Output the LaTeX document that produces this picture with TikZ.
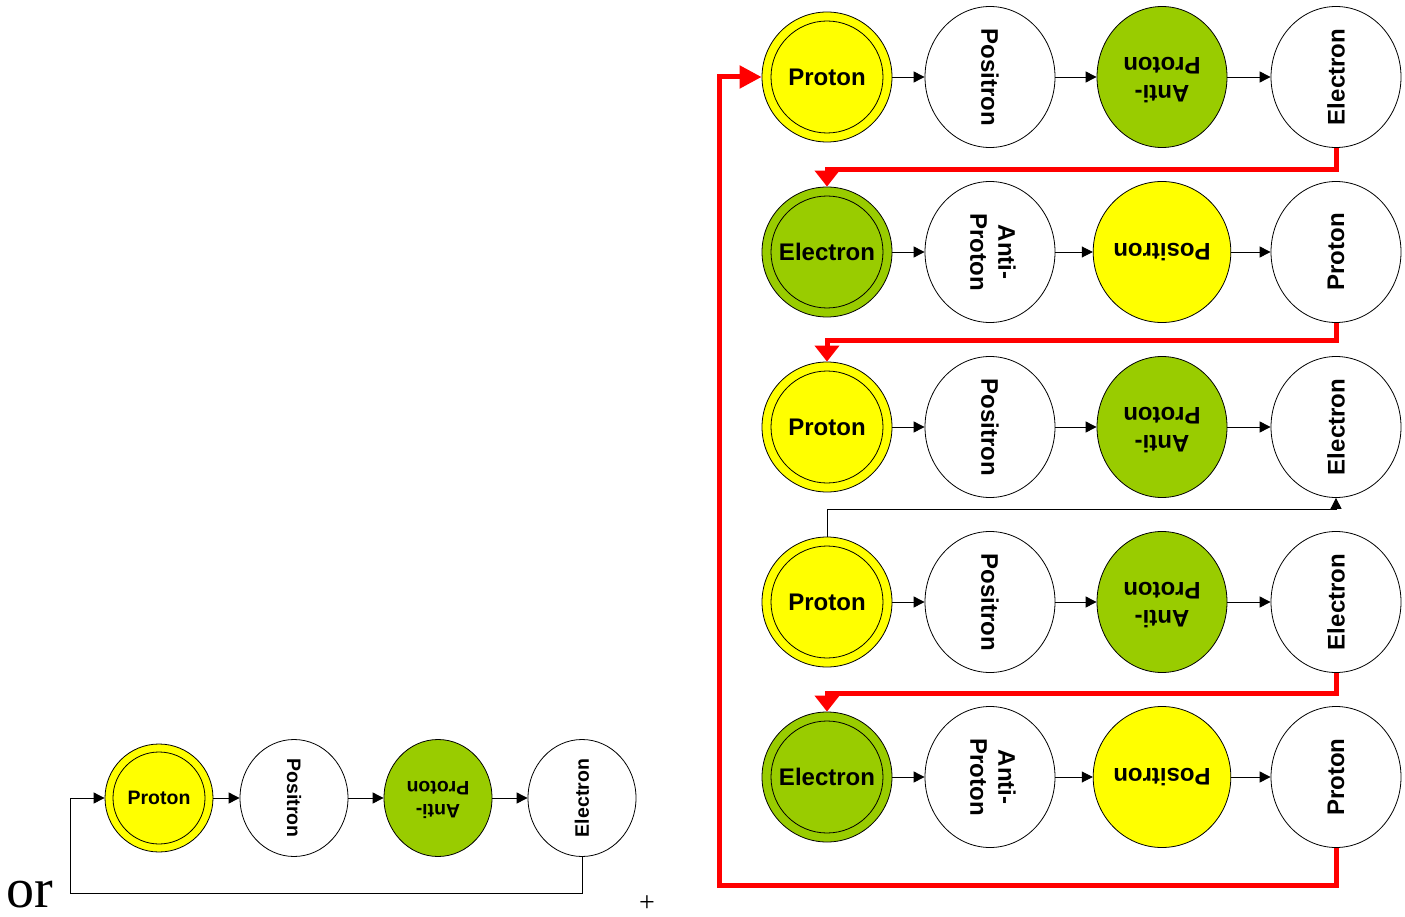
\documentclass[tikz,border=0pt]{standalone}
\usepackage{fontspec}
\setmainfont{Liberation Sans}
\newfontfamily\timesfont{Liberation Serif}
\usepackage{graphicx}
\usetikzlibrary{shapes.geometric, arrows.meta}

\definecolor{partyellow}{HTML}{FFFF00}
\definecolor{partgreen}{HTML}{99CC00}

\newcommand{\twoline}[2]{\begin{tabular}{@{}c@{}}#1\\#2\end{tabular}}

\begin{document}
\begin{tikzpicture}[x=1pt, y=-1pt,
        part/.style={ellipse, draw, line width=0.8pt, minimum width=130pt, minimum height=141pt,
            inner sep=0pt, font=\bfseries\fontsize{24}{28}\selectfont},
        core/.style={circle, draw, line width=0.8pt, minimum size=130pt, inner sep=0pt,
            font=\bfseries\fontsize{24}{28}\selectfont,
            path picture={\draw[line width=0.8pt] (path picture bounding box.center) circle[radius=56pt];}},
        smallpart/.style={part, minimum width=108pt, minimum height=117pt, font=\bfseries\fontsize{19.5}{23}\selectfont},
        smallcore/.style={circle, draw, line width=0.8pt, minimum size=108pt, inner sep=0pt,
            font=\bfseries\fontsize{19.5}{23}\selectfont,
            path picture={\draw[line width=0.8pt] (path picture bounding box.center) circle[radius=46pt];}},
        link/.style={draw, line width=0.9pt, -{Triangle[length=11pt, width=11pt]}},
        feed/.style={draw=red, line width=5pt, -{Triangle[length=16pt, width=24pt]}}]

    \useasboundingbox (0,0) rectangle (1405,917);

    % Small chain
    \node[smallcore, fill=partyellow] (l1) at (159,798) {Proton};
    \node[smallpart] (l2) at (294,798) {\rotatebox{-90}{Positron}};
    \node[smallpart, fill=partgreen] (l3) at (438,798) {\rotatebox{180}{\twoline{Anti-}{Proton}}};
    \node[smallpart] (l4) at (582,798) {\rotatebox{90}{Electron}};

    \draw[link] (l1) -- (l2);
    \draw[link] (l2) -- (l3);
    \draw[link] (l3) -- (l4);
    \coordinate (loop) at (70,893);
    \draw[link] (l4.south) |- (loop) |- (l1.west);

    % Side texts
    \node[anchor=base west, inner sep=0pt] (or) at (6,907) {\timesfont\fontsize{56}{60}\selectfont or};
    \node[inner sep=0pt] (plus) at (647,904) {\timesfont\fontsize{28}{30}\selectfont +};

    % Row 1
    \node[core, fill=partyellow] (n11) at (827,77) {Proton};
    \node[part] (n12) at (990,77) {\rotatebox{-90}{Positron}};
    \node[part, fill=partgreen] (n13) at (1162,77) {\rotatebox{180}{\twoline{Anti-}{Proton}}};
    \node[part] (n14) at (1336,77) {\rotatebox{90}{Electron}};

    % Row 2
    \node[core, fill=partgreen] (n21) at (827,252) {Electron};
    \node[part] (n22) at (990,252) {\rotatebox{-90}{\twoline{Anti-}{Proton}}};
    \node[part, fill=partyellow] (n23) at (1162,252) {\rotatebox{180}{Positron}};
    \node[part] (n24) at (1336,252) {\rotatebox{90}{Proton}};

    % Row 3
    \node[core, fill=partyellow] (n31) at (827,427) {Proton};
    \node[part] (n32) at (990,427) {\rotatebox{-90}{Positron}};
    \node[part, fill=partgreen] (n33) at (1162,427) {\rotatebox{180}{\twoline{Anti-}{Proton}}};
    \node[part] (n34) at (1336,427) {\rotatebox{90}{Electron}};

    % Row 4
    \node[core, fill=partyellow] (n41) at (827,602) {Proton};
    \node[part] (n42) at (990,602) {\rotatebox{-90}{Positron}};
    \node[part, fill=partgreen] (n43) at (1162,602) {\rotatebox{180}{\twoline{Anti-}{Proton}}};
    \node[part] (n44) at (1336,602) {\rotatebox{90}{Electron}};

    % Row 5
    \node[core, fill=partgreen] (n51) at (827,777) {Electron};
    \node[part] (n52) at (990,777) {\rotatebox{-90}{\twoline{Anti-}{Proton}}};
    \node[part, fill=partyellow] (n53) at (1162,777) {\rotatebox{180}{Positron}};
    \node[part] (n54) at (1336,777) {\rotatebox{90}{Proton}};

    % Links inside the rows
    \draw[link] (n11) -- (n12);
    \draw[link] (n12) -- (n13);
    \draw[link] (n13) -- (n14);
    \draw[link] (n21) -- (n22);
    \draw[link] (n22) -- (n23);
    \draw[link] (n23) -- (n24);
    \draw[link] (n31) -- (n32);
    \draw[link] (n32) -- (n33);
    \draw[link] (n33) -- (n34);
    \draw[link] (n41) -- (n42);
    \draw[link] (n42) -- (n43);
    \draw[link] (n43) -- (n44);
    \draw[link] (n51) -- (n52);
    \draw[link] (n52) -- (n53);
    \draw[link] (n53) -- (n54);

    % Links between the rows
    \draw[feed] (n14.south) -- ++(0,22) -| (n21.north);
    \draw[feed] (n24.south) -- ++(0,18) -| (n31.north);
    \draw[link] (n41.north) -- ++(0,-27) -| (n34.south);
    \draw[feed] (n44.south) -- ++(0,21) -| (n51.north);
    \coordinate (back) at (719,885);
    \draw[feed, -{Triangle[length=22pt, width=22pt]}] (n54.south) |- (back) |- (n11.west);

\end{tikzpicture}
\end{document}
